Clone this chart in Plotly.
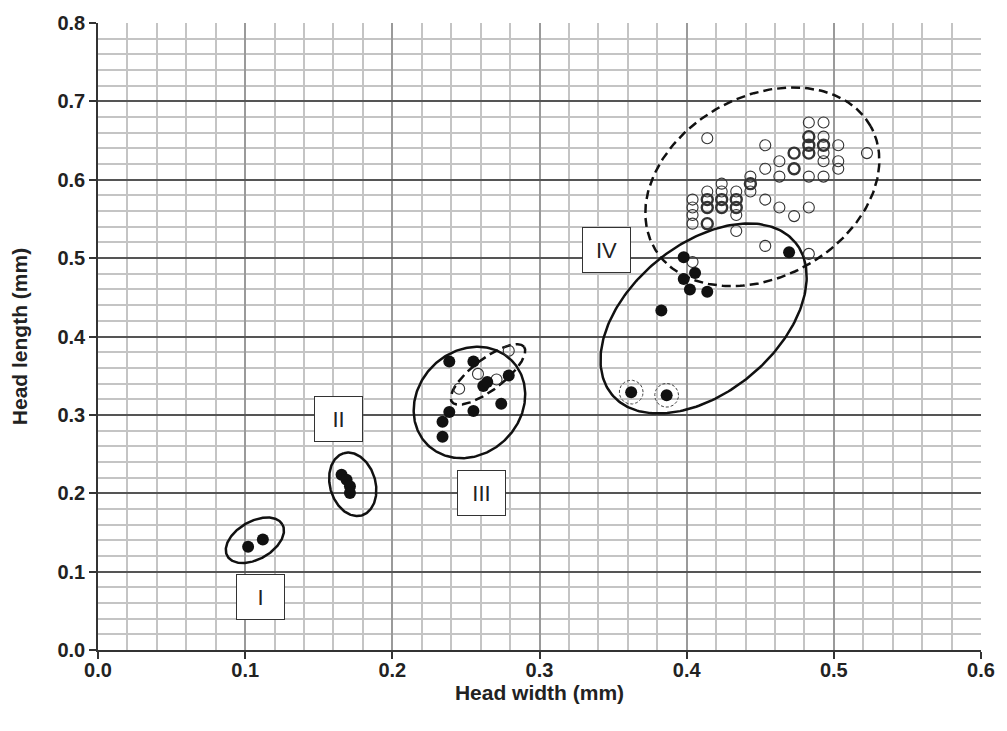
import numpy as np
import plotly.graph_objects as go

# ---- specimen measurements (head width, head length in mm) ----
# solid symbols
solid_width = [0.102, 0.112,
               0.1655, 0.1689, 0.1712, 0.1712,
               0.2387, 0.2551, 0.2791, 0.2618, 0.2645, 0.2740, 0.2387, 0.2551, 0.2341, 0.2341,
               0.3980, 0.4057, 0.3980, 0.4022, 0.4140, 0.3828, 0.4696, 0.3623, 0.3864]
solid_length = [0.1316, 0.1410,
                0.2236, 0.2173, 0.2089, 0.2004,
                0.3680, 0.3680, 0.3502, 0.3367, 0.3418, 0.3143, 0.3038, 0.3050, 0.2911, 0.2722,
                0.5010, 0.4810, 0.4734, 0.4600, 0.4570, 0.4333, 0.5076, 0.3290, 0.3250]

# open symbols; open_count > 1 marks coinciding specimens
open_width = [0.2791, 0.2582, 0.2708, 0.2454,
              0.414, 0.483, 0.493, 0.483, 0.493, 0.483, 0.493, 0.503, 0.4534,
              0.473, 0.483, 0.493, 0.5225, 0.463, 0.493, 0.503, 0.4534, 0.473, 0.503,
              0.463, 0.483, 0.493, 0.4433, 0.4433, 0.4433, 0.4238,
              0.414, 0.4238, 0.4337, 0.404, 0.414, 0.4238, 0.4337,
              0.404, 0.414, 0.4238, 0.4337, 0.404, 0.4337, 0.404, 0.414, 0.4337,
              0.4534, 0.463, 0.473, 0.483, 0.4534, 0.483, 0.404]
open_length = [0.3819, 0.3523, 0.3452, 0.3333,
               0.653, 0.673, 0.673, 0.655, 0.655, 0.644, 0.644, 0.644, 0.644,
               0.634, 0.634, 0.634, 0.634, 0.6236, 0.6236, 0.6236, 0.614, 0.614, 0.614,
               0.604, 0.604, 0.604, 0.604, 0.595, 0.585, 0.595,
               0.585, 0.585, 0.585, 0.5747, 0.5747, 0.5747, 0.5747,
               0.5646, 0.5646, 0.5646, 0.5646, 0.555, 0.555, 0.544, 0.544, 0.5346,
               0.5747, 0.5646, 0.5536, 0.5646, 0.5156, 0.5054, 0.495]
open_count = [1, 1, 1, 1,
              1, 1, 1, 2, 1, 2, 2, 1, 1,
              2, 2, 1, 1, 1, 1, 1, 1, 2, 1,
              1, 1, 1, 1, 2, 1, 1,
              1, 1, 1, 1, 2, 2, 2,
              1, 2, 2, 2, 1, 1, 1, 2, 1,
              1, 1, 1, 1, 1, 1, 1]

# group outlines: centre (data units), semi-axes (px), tilt (deg), style
ell_cx = [0.1066, 0.1731, 0.2524, 0.2650, 0.4115, 0.4514, 0.3623, 0.3864]
ell_cy = [0.1400, 0.2114, 0.3158, 0.3516, 0.4230, 0.5910, 0.3290, 0.3250]
ell_a = [32, 32.6, 60, 45.7, 120, 125, 12, 12]
ell_b = [19, 22.9, 52, 15.7, 74.5, 91, 12, 12]
ell_ang = [30, 106, 45, 37.5, 39.8, 29.2, 0, 0]
ell_kind = ["solid", "solid", "solid", "dash", "solid", "dash", "ring", "ring"]

# group labels
grp_text = ["I", "II", "III", "IV"]
grp_x = [0.1105, 0.1635, 0.2603, 0.3452]
grp_y = [0.0675, 0.2950, 0.2000, 0.5105]

W, H = 1007, 731
ML, MR, MT, MB = 98, 20, 18, 81
XR, YR = (0.0, 0.6), (0.0, 0.8)
kx = (W - ML - MR) / (XR[1] - XR[0])
ky = (H - MT - MB) / (YR[1] - YR[0])

fig = go.Figure()

t = np.linspace(0, 2 * np.pi, 241)
for cx, cy, a, b, ang, kind in zip(ell_cx, ell_cy, ell_a, ell_b, ell_ang, ell_kind):
    th = np.deg2rad(ang)
    u, v = a * np.cos(t), b * np.sin(t)
    ex = cx + (u * np.cos(th) - v * np.sin(th)) / kx
    ey = cy + (u * np.sin(th) + v * np.cos(th)) / ky
    if kind == "ring":
        line = dict(color="#444", width=1, dash="3px,2px")
    elif kind == "dash":
        line = dict(color="#111", width=2.5, dash="9px,5px")
    else:
        line = dict(color="#111", width=2.5)
    fig.add_trace(go.Scatter(x=ex, y=ey, mode="lines", line=line,
                             hoverinfo="skip", showlegend=False))

fig.add_trace(go.Scatter(
    x=open_width, y=open_length, mode="markers", showlegend=False,
    marker=dict(symbol="circle", size=11, color="rgba(255,255,255,0)",
                line=dict(color="#333", width=[1.1 if n == 1 else 2.4 for n in open_count]))))

fig.add_trace(go.Scatter(
    x=solid_width, y=solid_length, mode="markers", showlegend=False,
    marker=dict(symbol="circle", size=12, color="#111", line=dict(width=0))))

for txt, gx, gy in zip(grp_text, grp_x, grp_y):
    fig.add_annotation(x=gx, y=gy, text=txt, showarrow=False,
                       font=dict(family="Arial", size=22, color="#222"),
                       bgcolor="white", bordercolor="#333", borderwidth=1,
                       width=47, height=44, borderpad=0)

axis_common = dict(
    showline=True, linecolor="#333", linewidth=1.5,
    ticks="outside", ticklen=7, tickcolor="#333", tickwidth=1.5,
    tickfont=dict(family="Arial", size=20, color="#222", weight="bold"),
    tickformat=".1f", dtick=0.1, zeroline=False,
)
title_font = dict(family="Arial", size=21, color="#222", weight="bold")

fig.update_xaxes(range=list(XR), tick0=0, **axis_common, ticklabelstandoff=-6,
                 showgrid=True, gridcolor="#9a9a9a", gridwidth=1.5,
                 minor=dict(dtick=0.02, showgrid=True, gridcolor="#c4c4c4", gridwidth=1.5),
                 title=dict(text="Head width (mm)", standoff=6, font=title_font))
fig.update_yaxes(range=list(YR), tick0=0, **axis_common,
                 showgrid=True, gridcolor="#555", gridwidth=1.5,
                 minor=dict(dtick=0.02, showgrid=True, gridcolor="#c4c4c4", gridwidth=1.5),
                 title=dict(text="Head length (mm)", standoff=24, font=title_font))

fig.update_layout(width=W, height=H, margin=dict(l=ML, r=MR, t=MT, b=MB),
                  plot_bgcolor="white", paper_bgcolor="white")

fig.write_html("out.html")
